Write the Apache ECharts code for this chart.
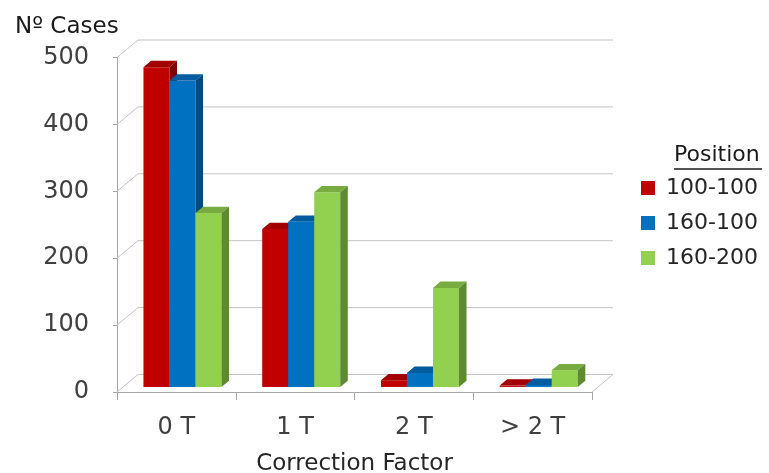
<!DOCTYPE html>
<html>
<head>
<meta charset="utf-8">
<script src="https://cdn.jsdelivr.net/npm/echarts@6/dist/echarts.min.js"></script>
<style>
  html, body { margin: 0; padding: 0; background: #ffffff; }
  #chart { width: 769px; height: 473px; }
</style>
</head>
<body>
<div id="chart"></div>
<script>
// Number of cases per correction factor, for each position
const categories = ['0 T', '1 T', '2 T', '> 2 T'];
const seriesNames = ['100-100', '160-100', '160-200'];
const values100_100 = [478, 236, 10, 2];
const values160_100 = [458, 247, 21, 3];
const values160_200 = [260, 291, 148, 25];
const yTicks = [0, 100, 200, 300, 400, 500];

const seriesValues = [values100_100, values160_100, values160_200];

// Face colours of each box: front, top, side
const palette = [
  { front: '#C00000', top: '#A20000', side: '#7C0000' },
  { front: '#0070C0', top: '#005C9E', side: '#00497E' },
  { front: '#92D050', top: '#78AC40', side: '#5E8A30' }
];

// Pseudo-3D geometry: depth offset of the back wall, bar depth span and width
const DEPTH_X = 21, DEPTH_Y = -17.5;
const BAR_D0 = 0.29, BAR_D1 = 0.65;
const BAR_FRAC = 0.219;

const FONT = 'DejaVu Sans';
const wallLine = { stroke: '#c4c4c4', lineWidth: 1 };

// Back-wall gridlines, left-wall diagonals and floor edge
function frameRenderer(params, api) {
  const v = api.value(1);
  const cs = params.coordSys;
  const y = api.coord([0, v])[1];
  const xl = cs.x, xr = cs.x + cs.width;
  const children = [
    { type: 'line', shape: { x1: xl, y1: y, x2: xl + DEPTH_X, y2: y + DEPTH_Y }, style: wallLine },
    { type: 'line', shape: { x1: xl + DEPTH_X, y1: y + DEPTH_Y, x2: xr + DEPTH_X, y2: y + DEPTH_Y }, style: wallLine }
  ];
  if (v === 0) {
    children.push({ type: 'line', shape: { x1: xr, y1: y, x2: xr + DEPTH_X, y2: y + DEPTH_Y }, style: wallLine });
  }
  return { type: 'group', children: children };
}

// A box bar: front rectangle, top and right-side parallelograms
function barRenderer(idx) {
  return function (params, api) {
    const cat = api.value(0), val = api.value(1);
    const base = api.coord([cat, 0]);
    const tip = api.coord([cat, val]);
    const w = api.size([1, 0])[0] * BAR_FRAC;
    const x0 = base[0] + (idx - 1.5) * w + BAR_D0 * DEPTH_X;
    const yb = base[1] + BAR_D0 * DEPTH_Y;
    const yt = tip[1] + BAR_D0 * DEPTH_Y;
    const ddx = (BAR_D1 - BAR_D0) * DEPTH_X;
    const ddy = (BAR_D1 - BAR_D0) * DEPTH_Y;
    const c = palette[idx];
    return {
      type: 'group',
      children: [
        { type: 'rect', shape: { x: x0, y: yt, width: w, height: yb - yt }, style: { fill: c.front } },
        { type: 'polygon', shape: { points: [[x0, yt], [x0 + w, yt], [x0 + w + ddx, yt + ddy], [x0 + ddx, yt + ddy]] }, style: { fill: c.top } },
        { type: 'polygon', shape: { points: [[x0 + w, yt], [x0 + w + ddx, yt + ddy], [x0 + w + ddx, yb + ddy], [x0 + w, yb]] }, style: { fill: c.side } }
      ]
    };
  };
}

const chart = echarts.init(document.getElementById('chart'), null, { renderer: 'canvas' });

const series = [{
  type: 'custom',
  name: 'frame',
  silent: true,
  z: 1,
  renderItem: frameRenderer,
  data: yTicks.map(function (v) { return [0, v]; })
}];
seriesNames.forEach(function (name, i) {
  series.push({
    type: 'custom',
    name: name,
    z: 2,
    itemStyle: { color: palette[i].front },
    renderItem: barRenderer(i),
    encode: { x: 0, y: 1 },
    data: seriesValues[i].map(function (v, k) { return [k, v]; })
  });
});

chart.setOption({
  animation: false,
  backgroundColor: '#ffffff',
  title: {
    text: 'Nº Cases',
    left: 10,
    top: 11,
    textStyle: { fontFamily: FONT, fontSize: 23, fontWeight: 'normal', color: '#1a1a1a' }
  },
  legend: {
    data: seriesNames,
    orient: 'vertical',
    left: 641,
    top: 177,
    padding: 0,
    icon: 'rect',
    itemWidth: 14,
    itemHeight: 14,
    itemGap: 13,
    textStyle: { fontFamily: FONT, fontSize: 22, color: '#262626', padding: [0, 0, 0, 6] }
  },
  graphic: [
    { type: 'text', left: 674, top: 144, style: { text: 'Position', font: '22px "DejaVu Sans"', fill: '#1a1a1a' } },
    { type: 'line', shape: { x1: 674, y1: 169, x2: 762, y2: 169 }, style: { stroke: '#1a1a1a', lineWidth: 1.5 } }
  ],
  grid: { left: 117, right: 177, top: 57.5, bottom: 81, containLabel: false, outerBoundsMode: 'none' },
  xAxis: {
    type: 'category',
    data: categories,
    boundaryGap: true,
    name: 'Correction Factor',
    nameLocation: 'middle',
    nameGap: 61,
    nameTextStyle: { fontFamily: FONT, fontSize: 23, color: '#262626' },
    axisLine: { show: true, lineStyle: { color: '#a6a6a6', width: 1 } },
    axisTick: { show: true, length: 8, lineStyle: { color: '#a6a6a6' } },
    axisLabel: { fontFamily: FONT, fontSize: 24, color: '#404040', margin: 24 },
    splitLine: { show: false }
  },
  yAxis: {
    type: 'value',
    min: 0,
    max: 500,
    interval: 100,
    axisLine: { show: true, lineStyle: { color: '#a6a6a6', width: 1 } },
    axisTick: { show: true, length: 4, lineStyle: { color: '#a6a6a6' } },
    axisLabel: { fontFamily: FONT, fontSize: 24, color: '#404040', margin: 28 },
    splitLine: { show: false }
  },
  series: series
});
</script>
</body>
</html>
